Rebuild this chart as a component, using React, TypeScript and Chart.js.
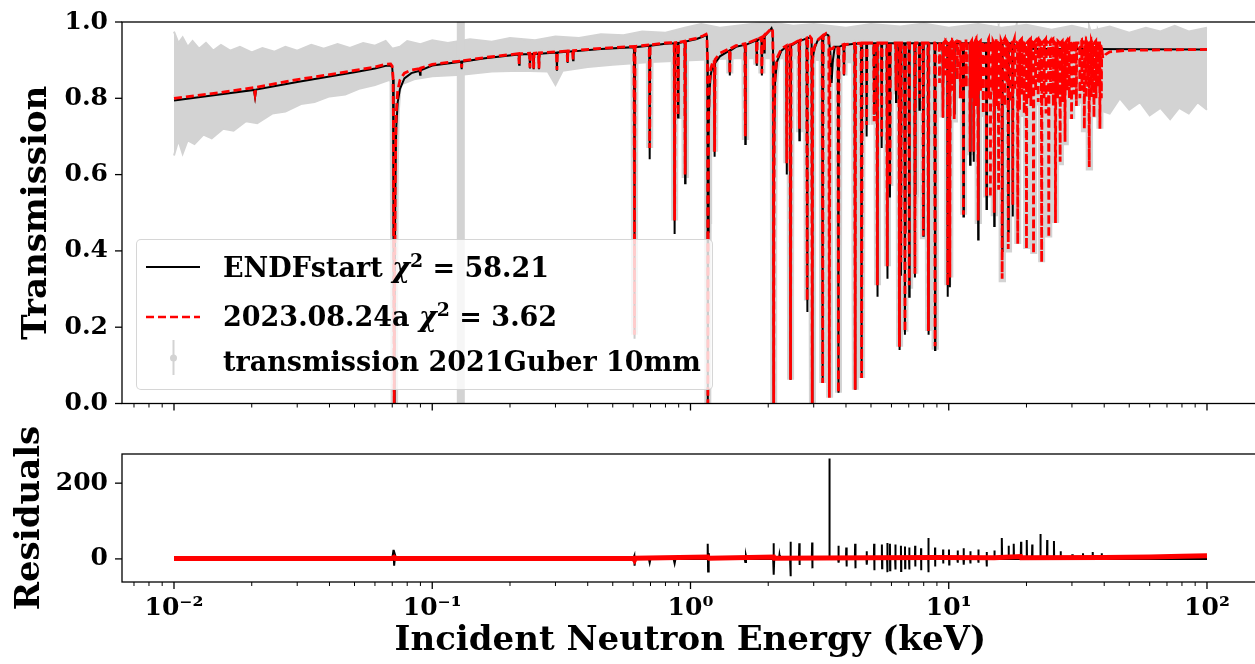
import React, { useEffect, useRef } from "react";
import { Chart, registerables } from "chart.js";
Chart.register(...registerables);

// ------------------------------------------------------------------ data
const xTickValues = [0.01, 0.1, 1, 10, 100];
const xTickLabels = ["10\u207B\u00B2", "10\u207B\u00B9", "10\u2070", "10\u00B9", "10\u00B2"];
const transTicks = [0, 0.2, 0.4, 0.6, 0.8, 1.0];
const residTicks = [0, 200];

const legendNames = ["ENDFstart", "2023.08.24a", "transmission 2021Guber 10mm"];
const legendChi2 = ["58.21", "3.62", null];

// ENDFstart model transmission [keV, T]
const endfCurve: number[][] = [
  [0.0100, 0.794], [0.0150, 0.810],
  [0.0204, 0.822], [0.0206, 0.803], [0.0208, 0.823],
  [0.0300, 0.843], [0.0400, 0.857], [0.0500, 0.868], [0.0600, 0.878], [0.0660, 0.885], [0.0690, 0.886],
  [0.0700, 0.880], [0.0705, 0.850], [0.0708, 0.700], [0.0710, 0.300], [0.0712, 0.000], [0.0715, 0.200],
  [0.0719, 0.550], [0.0725, 0.720], [0.0735, 0.790], [0.0750, 0.825], [0.0780, 0.852], [0.0830, 0.866],
  [0.0893, 0.872], [0.0897, 0.862], [0.0901, 0.873],
  [0.1000, 0.886],
  [0.1295, 0.896], [0.1300, 0.876], [0.1305, 0.896],
  [0.1600, 0.905],
  [0.2161, 0.915], [0.2170, 0.888], [0.2179, 0.915],
  [0.2380, 0.916], [0.2390, 0.878], [0.2400, 0.916],
  [0.2460, 0.916], [0.2470, 0.876], [0.2480, 0.916],
  [0.2580, 0.917], [0.2590, 0.876], [0.2600, 0.917],
  [0.3028, 0.920], [0.3040, 0.872], [0.3052, 0.920],
  [0.3327, 0.922], [0.3340, 0.893], [0.3353, 0.922],
  [0.3496, 0.923], [0.3510, 0.900], [0.3524, 0.923],
  [0.4500, 0.929],
  [0.6040, 0.934], [0.6064, 0.550], [0.6070, 0.170], [0.6076, 0.550], [0.6100, 0.934],
  [0.6922, 0.938], [0.6950, 0.640], [0.6978, 0.938],
  [0.8000, 0.943],
  [0.8645, 0.944], [0.8680, 0.444], [0.8715, 0.944],
  [0.8915, 0.945], [0.8950, 0.750], [0.8985, 0.945],
  [0.9492, 0.948], [0.9530, 0.577], [0.9568, 0.949],
  [1.0500, 0.955], [1.1200, 0.962], [1.1500, 0.966], [1.1580, 0.960], [1.1630, 0.900], [1.1660, 0.600],
  [1.1680, 0.000], [1.1710, 0.450], [1.1760, 0.720], [1.1850, 0.820], [1.2000, 0.865], [1.2200, 0.885],
  [1.2350, 0.890], [1.2400, 0.647], [1.2450, 0.892],
  [1.3000, 0.910],
  [1.4143, 0.925], [1.4200, 0.860], [1.4257, 0.925],
  [1.5000, 0.935],
  [1.6235, 0.940], [1.6300, 0.680], [1.6365, 0.940],
  [1.7988, 0.952], [1.8060, 0.885], [1.8132, 0.952],
  [1.8824, 0.958], [1.8900, 0.860], [1.8976, 0.958],
  [1.9223, 0.962], [1.9300, 0.920], [1.9377, 0.963],
  [2.0300, 0.978], [2.0600, 0.984], [2.0800, 0.975], [2.0900, 0.900], [2.0960, 0.500], [2.1000, 0.000],
  [2.1040, 0.400], [2.1100, 0.700], [2.1250, 0.840], [2.1600, 0.895], [2.2500, 0.925],
  [2.3506, 0.935], [2.3600, 0.600], [2.3694, 0.935],
  [2.4280, 0.938], [2.4375, 0.300], [2.4400, 0.062], [2.4425, 0.300], [2.4520, 0.938],
  [2.6294, 0.950], [2.6400, 0.690], [2.6506, 0.950],
  [2.8160, 0.957], [2.8270, 0.500], [2.8300, 0.240], [2.8330, 0.500], [2.8440, 0.957],
  [2.9000, 0.960],
  [2.9450, 0.955], [2.9570, 0.300], [2.9600, 0.000], [2.9630, 0.300], [2.9750, 0.900],
  [3.0200, 0.930], [3.1000, 0.950],
  [3.2340, 0.962], [3.2470, 0.300], [3.2500, 0.054], [3.2530, 0.300], [3.2660, 0.962],
  [3.3500, 0.968], [3.4200, 0.965], [3.4800, 0.920], [3.5200, 0.840], [3.5600, 0.900], [3.6200, 0.935],
  [3.7210, 0.935], [3.7360, 0.300], [3.7400, 0.028], [3.7440, 0.300], [3.7590, 0.935],
  [3.9140, 0.940], [3.9300, 0.860], [3.9460, 0.940],
  [4.3180, 0.943], [4.3360, 0.300], [4.3400, 0.036], [4.3440, 0.300], [4.3620, 0.943],
  [4.5770, 0.944], [4.5950, 0.300], [4.6000, 0.067], [4.6050, 0.300], [4.6230, 0.944],
  [4.7910, 0.944], [4.8100, 0.700], [4.8290, 0.944],
  [5.1190, 0.944], [5.1400, 0.760], [5.1610, 0.944],
  [5.2640, 0.944], [5.2850, 0.500], [5.2900, 0.280], [5.2950, 0.500], [5.3160, 0.944],
  [5.4780, 0.944], [5.5000, 0.670], [5.5220, 0.944],
  [5.7510, 0.944], [5.7740, 0.500], [5.7800, 0.327], [5.7860, 0.500], [5.8090, 0.944],
  [5.8960, 0.944], [5.9200, 0.540], [5.9440, 0.944],
  [6.2250, 0.944], [6.2500, 0.790], [6.2750, 0.944],
  [6.4080, 0.944], [6.4340, 0.450], [6.4400, 0.140], [6.4460, 0.450], [6.4720, 0.944],
  [6.5040, 0.944], [6.5300, 0.335], [6.5560, 0.944],
  [6.7360, 0.944], [6.7630, 0.450], [6.7700, 0.180], [6.7770, 0.450], [6.8040, 0.944],
  [7.0020, 0.944], [7.0300, 0.280], [7.0580, 0.944],
  [7.3630, 0.944], [7.3930, 0.550], [7.4000, 0.330], [7.4070, 0.550], [7.4370, 0.944],
  [7.6690, 0.944], [7.7000, 0.770], [7.7310, 0.944],
  [7.9380, 0.944], [7.9700, 0.440], [8.0020, 0.944],
  [8.2980, 0.944], [8.3320, 0.450], [8.3400, 0.180], [8.3480, 0.450], [8.3820, 0.944],
  [8.8060, 0.944], [8.8410, 0.450], [8.8500, 0.140], [8.8590, 0.450], [8.8940, 0.944],
  [9.4620, 0.944], [9.5000, 0.750], [9.5380, 0.944],
  [9.8700, 0.944], [9.9100, 0.280], [9.9500, 0.944],
  [10.060, 0.944], [10.100, 0.305], [10.140, 0.944],
  [10.460, 0.944], [10.500, 0.760], [10.540, 0.944],
  [11.350, 0.944], [11.400, 0.490], [11.450, 0.944],
  [12.050, 0.944], [12.100, 0.626], [12.150, 0.944],
  [12.450, 0.944], [12.500, 0.634], [12.550, 0.944],
  [12.950, 0.944], [13.000, 0.430], [13.050, 0.944],
  [13.940, 0.944], [14.000, 0.510], [14.060, 0.944],
  [14.940, 0.944], [15.000, 0.465], [15.060, 0.944],
  [16.040, 0.944], [16.100, 0.400], [16.160, 0.944],
  [16.930, 0.944], [17.000, 0.450], [17.070, 0.944],
  [17.630, 0.944], [17.700, 0.490], [17.770, 0.944],
  [18.500, 0.930], [100.00, 0.928],
];

// 2023.08.24a fit transmission [keV, T]
const fitCurve: number[][] = [
  [0.0100, 0.800], [0.0150, 0.815],
  [0.0204, 0.828], [0.0206, 0.810], [0.0208, 0.829],
  [0.0300, 0.849], [0.0400, 0.862], [0.0500, 0.873], [0.0600, 0.882], [0.0660, 0.889], [0.0690, 0.890],
  [0.0700, 0.884], [0.0705, 0.855], [0.0708, 0.700], [0.0710, 0.300], [0.0712, 0.000], [0.0715, 0.250],
  [0.0719, 0.600], [0.0725, 0.760], [0.0735, 0.820], [0.0750, 0.848], [0.0780, 0.866], [0.0830, 0.874],
  [0.0893, 0.878], [0.0897, 0.868], [0.0901, 0.879],
  [0.1000, 0.889],
  [0.1295, 0.898], [0.1300, 0.880], [0.1305, 0.898],
  [0.1600, 0.907],
  [0.2161, 0.917], [0.2170, 0.890], [0.2179, 0.917],
  [0.2380, 0.918], [0.2390, 0.880], [0.2400, 0.918],
  [0.2460, 0.918], [0.2470, 0.878], [0.2480, 0.918],
  [0.2580, 0.919], [0.2590, 0.878], [0.2600, 0.919],
  [0.3028, 0.922], [0.3040, 0.874], [0.3052, 0.922],
  [0.3327, 0.924], [0.3340, 0.895], [0.3353, 0.924],
  [0.3496, 0.925], [0.3510, 0.902], [0.3524, 0.925],
  [0.4500, 0.931],
  [0.6040, 0.936], [0.6064, 0.560], [0.6070, 0.180], [0.6076, 0.560], [0.6100, 0.936],
  [0.6922, 0.940], [0.6950, 0.670], [0.6978, 0.940],
  [0.8000, 0.945],
  [0.8645, 0.946], [0.8680, 0.480], [0.8715, 0.946],
  [0.8915, 0.947], [0.8950, 0.755], [0.8985, 0.947],
  [0.9492, 0.950], [0.9530, 0.600], [0.9568, 0.951],
  [1.0500, 0.957], [1.1200, 0.964], [1.1500, 0.968], [1.1580, 0.962], [1.1630, 0.900], [1.1660, 0.600],
  [1.1680, 0.000], [1.1710, 0.480], [1.1760, 0.750], [1.1850, 0.845], [1.2000, 0.880], [1.2200, 0.895],
  [1.2350, 0.900], [1.2400, 0.660], [1.2450, 0.902],
  [1.3000, 0.918],
  [1.4143, 0.930], [1.4200, 0.865], [1.4257, 0.930],
  [1.5000, 0.938],
  [1.6235, 0.943], [1.6300, 0.700], [1.6365, 0.943],
  [1.7988, 0.954], [1.8060, 0.888], [1.8132, 0.954],
  [1.8824, 0.960], [1.8900, 0.865], [1.8976, 0.960],
  [1.9223, 0.964], [1.9300, 0.925], [1.9377, 0.965],
  [2.0300, 0.979], [2.0600, 0.985], [2.0800, 0.976], [2.0900, 0.900], [2.0960, 0.500], [2.1000, 0.000],
  [2.1040, 0.420], [2.1100, 0.720], [2.1250, 0.855], [2.1600, 0.905], [2.2500, 0.930],
  [2.3506, 0.938], [2.3600, 0.630], [2.3694, 0.938],
  [2.4280, 0.940], [2.4375, 0.300], [2.4400, 0.062], [2.4425, 0.300], [2.4520, 0.940],
  [2.6294, 0.952], [2.6400, 0.720], [2.6506, 0.952],
  [2.8160, 0.958], [2.8270, 0.520], [2.8300, 0.270], [2.8330, 0.520], [2.8440, 0.958],
  [2.9000, 0.962],
  [2.9450, 0.956], [2.9570, 0.300], [2.9600, 0.000], [2.9630, 0.300], [2.9750, 0.905],
  [3.0200, 0.935], [3.1000, 0.952],
  [3.2340, 0.963], [3.2470, 0.300], [3.2500, 0.054], [3.2530, 0.300], [3.2660, 0.964],
  [3.3500, 0.970],
  [3.4330, 0.962], [3.4470, 0.300], [3.4500, 0.015], [3.4530, 0.300], [3.4670, 0.930],
  [3.5500, 0.930], [3.6200, 0.937],
  [3.7210, 0.937], [3.7360, 0.300], [3.7400, 0.028], [3.7440, 0.300], [3.7590, 0.937],
  [3.9140, 0.941], [3.9300, 0.860], [3.9460, 0.941],
  [4.3180, 0.944], [4.3360, 0.300], [4.3400, 0.036], [4.3440, 0.300], [4.3620, 0.944],
  [4.5770, 0.945], [4.5950, 0.300], [4.6000, 0.067], [4.6050, 0.300], [4.6230, 0.945],
  [4.7910, 0.945], [4.8100, 0.730], [4.8290, 0.945],
  [5.1190, 0.945], [5.1400, 0.740], [5.1610, 0.945],
  [5.2640, 0.945], [5.2850, 0.520], [5.2900, 0.310], [5.2950, 0.520], [5.3160, 0.945],
  [5.4780, 0.945], [5.5000, 0.700], [5.5220, 0.945],
  [5.7510, 0.945], [5.7740, 0.520], [5.7800, 0.360], [5.7860, 0.520], [5.8090, 0.945],
  [5.8960, 0.945], [5.9200, 0.570], [5.9440, 0.945],
  [6.2250, 0.945], [6.2500, 0.820], [6.2750, 0.945],
  [6.4080, 0.945], [6.4340, 0.450], [6.4400, 0.149], [6.4460, 0.450], [6.4720, 0.945],
  [6.5040, 0.945], [6.5300, 0.370], [6.5560, 0.945],
  [6.7360, 0.945], [6.7630, 0.450], [6.7700, 0.188], [6.7770, 0.450], [6.8040, 0.945],
  [7.0020, 0.945], [7.0300, 0.310], [7.0580, 0.945],
  [7.3630, 0.945], [7.3930, 0.550], [7.4000, 0.340], [7.4070, 0.550], [7.4370, 0.945],
  [7.6690, 0.945], [7.7000, 0.800], [7.7310, 0.945],
  [7.9380, 0.945], [7.9700, 0.440], [8.0020, 0.945],
  [8.2980, 0.945], [8.3320, 0.450], [8.3400, 0.190], [8.3480, 0.450], [8.3820, 0.945],
  [8.8060, 0.945], [8.8410, 0.450], [8.8500, 0.150], [8.8590, 0.450], [8.8940, 0.945],
  [9.180, 0.945], [9.210, 0.840], [9.240, 0.948],
  [9.470, 0.945], [9.500, 0.750], [9.530, 0.945],
  [9.680, 0.950], [9.710, 0.860], [9.740, 0.950],
  [9.880, 0.945], [9.910, 0.310], [9.940, 0.945],
  [10.07, 0.945], [10.10, 0.330], [10.13, 0.945],
  [10.27, 0.950], [10.30, 0.820], [10.33, 0.950],
  [10.47, 0.945], [10.50, 0.746], [10.53, 0.945],
  [10.77, 0.952], [10.80, 0.850], [10.83, 0.950],
  [11.07, 0.948], [11.10, 0.800], [11.13, 0.948],
  [11.37, 0.945], [11.40, 0.495], [11.43, 0.945],
  [11.66, 0.955], [11.70, 0.830], [11.74, 0.950],
  [12.06, 0.945], [12.10, 0.660], [12.14, 0.945],
  [12.26, 0.950], [12.30, 0.800], [12.34, 0.950],
  [12.46, 0.945], [12.50, 0.660], [12.54, 0.945],
  [12.76, 0.955], [12.80, 0.780], [12.84, 0.950],
  [12.96, 0.945], [13.00, 0.480], [13.04, 0.945],
  [13.26, 0.950], [13.30, 0.820], [13.34, 0.950],
  [13.56, 0.945], [13.60, 0.760], [13.64, 0.945],
  [13.96, 0.945], [14.00, 0.540], [14.04, 0.945],
  [14.26, 0.955], [14.30, 0.800], [14.34, 0.950],
  [14.46, 0.945], [14.50, 0.540], [14.54, 0.945],
  [14.76, 0.950], [14.80, 0.820], [14.84, 0.950],
  [14.96, 0.945], [15.00, 0.500], [15.04, 0.945],
  [15.26, 0.955], [15.30, 0.780], [15.34, 0.950],
  [15.55, 0.945], [15.60, 0.560], [15.65, 0.945],
  [15.85, 0.950], [15.90, 0.800], [15.95, 0.950],
  [16.05, 0.945], [16.10, 0.327], [16.15, 0.945],
  [16.45, 0.955], [16.50, 0.780], [16.55, 0.950],
  [16.75, 0.945], [16.80, 0.840], [16.85, 0.948],
  [16.95, 0.945], [17.00, 0.405], [17.05, 0.945],
  [17.25, 0.950], [17.30, 0.790], [17.35, 0.950],
  [17.65, 0.945], [17.70, 0.520], [17.75, 0.945],
  [17.95, 0.955], [18.00, 0.820], [18.05, 0.950],
  [18.45, 0.945], [18.50, 0.418], [18.55, 0.945],
  [18.75, 0.950], [18.80, 0.770], [18.85, 0.950],
  [19.14, 0.955], [19.20, 0.810], [19.26, 0.950],
  [19.54, 0.945], [19.60, 0.760], [19.66, 0.945],
  [19.94, 0.945], [20.00, 0.405], [20.06, 0.945],
  [20.34, 0.950], [20.40, 0.800], [20.46, 0.950],
  [20.74, 0.955], [20.80, 0.780], [20.86, 0.950],
  [21.24, 0.945], [21.30, 0.392], [21.36, 0.945],
  [21.64, 0.950], [21.70, 0.820], [21.76, 0.950],
  [22.13, 0.955], [22.20, 0.790], [22.27, 0.950],
  [22.43, 0.950], [22.50, 0.840], [22.57, 0.950],
  [22.83, 0.945], [22.90, 0.370], [22.97, 0.945],
  [23.33, 0.950], [23.40, 0.800], [23.47, 0.950],
  [23.73, 0.955], [23.80, 0.760], [23.87, 0.950],
  [24.33, 0.945], [24.40, 0.435], [24.47, 0.945],
  [24.73, 0.950], [24.80, 0.810], [24.87, 0.950],
  [25.32, 0.955], [25.40, 0.780], [25.48, 0.950],
  [25.82, 0.945], [25.90, 0.473], [25.98, 0.945],
  [26.32, 0.950], [26.40, 0.800], [26.48, 0.950],
  [26.92, 0.945], [27.00, 0.634], [27.08, 0.945],
  [27.52, 0.950], [27.60, 0.790], [27.68, 0.950],
  [28.12, 0.945], [28.20, 0.686], [28.28, 0.945],
  [28.61, 0.950], [28.70, 0.820], [28.79, 0.950],
  [29.21, 0.955], [29.30, 0.800], [29.39, 0.950],
  [29.81, 0.945], [29.90, 0.746], [29.99, 0.945],
  [30.41, 0.950], [30.50, 0.810], [30.59, 0.950],
  [31.11, 0.945], [31.20, 0.780], [31.29, 0.945],
  [32.10, 0.945], [32.20, 0.800], [32.30, 0.945],
  [32.70, 0.950], [32.80, 0.820], [32.90, 0.950],
  [33.40, 0.945], [33.50, 0.720], [33.60, 0.945],
  [33.90, 0.950], [34.00, 0.800], [34.10, 0.950],
  [34.40, 0.945], [34.50, 0.830], [34.60, 0.945],
  [34.90, 0.945], [35.00, 0.620], [35.10, 0.945],
  [35.50, 0.950], [35.60, 0.800], [35.70, 0.950],
  [35.90, 0.945], [36.00, 0.820], [36.10, 0.945],
  [36.39, 0.945], [36.50, 0.750], [36.61, 0.945],
  [37.09, 0.950], [37.20, 0.800], [37.31, 0.950],
  [37.69, 0.945], [37.80, 0.830], [37.91, 0.945],
  [38.38, 0.945], [38.50, 0.720], [38.62, 0.945],
  [38.88, 0.940], [39.00, 0.800], [39.12, 0.935],
  [39.50, 0.905], [40.50, 0.915], [42.00, 0.922], [50.00, 0.926], [100.0, 0.928],
];

// measured transmission (2021Guber 10mm): spread of the points with their error bars
const dataUpper: number[][] = [
  [0.0100, 0.975], [0.0104, 0.945], [0.0108, 0.960], [0.0113, 0.935], [0.0118, 0.950], [0.0125, 0.930],
  [0.0133, 0.945], [0.0142, 0.925], [0.0152, 0.940], [0.0165, 0.925], [0.0180, 0.935], [0.0200, 0.920],
  [0.0220, 0.932], [0.0245, 0.922], [0.0270, 0.935], [0.0300, 0.925], [0.0340, 0.940], [0.0380, 0.930],
  [0.0430, 0.942], [0.0480, 0.932], [0.0540, 0.945], [0.0600, 0.938], [0.0660, 0.950], [0.0700, 0.930],
  [0.0750, 0.935], [0.0800, 0.950], [0.0900, 0.942], [0.1000, 0.952], [0.1150, 0.945], [0.1400, 0.955],
  [0.1700, 0.948], [0.2000, 0.958], [0.2500, 0.952], [0.3000, 0.962], [0.3700, 0.958], [0.4500, 0.968],
  [0.5500, 0.965], [0.6500, 0.975], [0.8000, 0.972], [0.9500, 0.985], [1.1000, 0.995], [1.3000, 0.985],
  [1.6000, 0.992], [2.0000, 1.000], [2.5000, 0.990], [3.0000, 0.995], [4.0000, 0.985], [5.0000, 0.995],
  [6.5000, 0.988], [8.0000, 0.996], [10.000, 0.985], [13.000, 0.995], [16.000, 0.985], [20.000, 0.993],
  [25.000, 0.980], [30.000, 0.990], [36.000, 0.978], [42.000, 0.988], [50.000, 0.972], [58.000, 0.985],
  [66.000, 0.975], [75.000, 0.990], [85.000, 0.975], [100.00, 0.985],
];
const dataLower: number[][] = [
  [0.0100, 0.650], [0.0104, 0.690], [0.0108, 0.655], [0.0113, 0.690], [0.0120, 0.680], [0.0130, 0.705],
  [0.0140, 0.695], [0.0155, 0.720], [0.0170, 0.715], [0.0190, 0.740], [0.0210, 0.735], [0.0240, 0.760],
  [0.0270, 0.765], [0.0310, 0.785], [0.0350, 0.790], [0.0400, 0.805], [0.0460, 0.810], [0.0520, 0.825],
  [0.0600, 0.835], [0.0680, 0.848], [0.0750, 0.835], [0.0850, 0.850], [0.1000, 0.858], [0.1300, 0.862],
  [0.1700, 0.870], [0.2200, 0.872], [0.2800, 0.870], [0.3000, 0.835], [0.3200, 0.872], [0.4000, 0.882],
  [0.5000, 0.888], [0.7000, 0.895], [1.0000, 0.900], [1.5000, 0.905], [2.5000, 0.905], [4.0000, 0.895],
  [6.0000, 0.885], [9.0000, 0.870], [13.000, 0.850], [18.000, 0.830], [25.000, 0.810], [32.000, 0.790],
  [38.000, 0.770], [42.000, 0.760], [46.000, 0.800], [50.000, 0.770], [55.000, 0.790], [60.000, 0.755],
  [66.000, 0.775], [72.000, 0.745], [78.000, 0.775], [85.000, 0.760], [92.000, 0.790], [100.00, 0.770],
];
// measured points whose error bars span the whole range
const bigErrE = [0.129];
const bigErrLo = [-0.05];
const bigErrHi = [1.05];

// residuals [keV, value]
const endfResid: number[][] = [
  [0.0100, 0],
  [0.0700, 0], [0.0708, 24], [0.0712, -18], [0.0718, 10], [0.0725, 0],
  [0.6000, 0], [0.6060, 8], [0.6075, -18], [0.6100, 0],
  [0.6900, 0], [0.6950, -10], [0.7000, 0],
  [0.8600, 0], [0.8680, -12], [0.8750, 0],
  [1.1600, 0], [1.1660, 40], [1.1700, -33], [1.1760, 15], [1.1850, 0],
  [1.6200, 0], [1.6300, -8], [1.6400, 8], [1.6500, 0],
  [2.0900, 0], [2.0980, 41], [2.1020, -42], [2.1100, 0],
  [2.2000, 0], [2.2100, 10], [2.2200, 0],
  [2.4300, 0], [2.4370, 45], [2.4430, -46], [2.4500, 0],
  [2.6300, 0], [2.6380, 41], [2.6430, -16], [2.6500, 0],
  [2.9500, 0], [2.9580, 43], [2.9630, -25], [2.9700, 0],
  [3.4400, 0], [3.4500, 265], [3.4600, 0],
  [3.7300, 0], [3.7400, 35], [3.7500, -10], [3.7600, 0],
  [4.0000, 0], [4.0100, 30], [4.0200, -20], [4.0300, 0],
  [4.3300, 0], [4.3400, 40], [4.3500, -25], [4.3600, 0],
  [4.8000, 0], [4.8100, 20], [4.8200, -15], [4.8300, 0],
  [5.1300, 0], [5.1400, 40], [5.1500, -30], [5.1600, 0],
  [5.5000, 0], [5.5100, 38], [5.5200, -25], [5.5300, 0],
  [5.7700, 0], [5.7800, 42], [5.7900, -35], [5.8000, 0],
  [5.9100, 0], [5.9200, 40], [5.9300, -30], [5.9400, 0],
  [6.2000, 0], [6.2100, 38], [6.2200, -28], [6.2300, 0],
  [6.5200, 0], [6.5300, 35], [6.5400, -32], [6.5500, 0],
  [6.7600, 0], [6.7700, 33], [6.7800, -25], [6.7900, 0],
  [7.0200, 0], [7.0300, 30], [7.0400, -28], [7.0500, 0],
  [7.4000, 0], [7.4100, 35], [7.4200, -20], [7.4300, 0],
  [7.8000, 0], [7.8100, 28], [7.8200, -30], [7.8300, 0],
  [8.3300, 0], [8.3400, 55], [8.3500, -35], [8.3600, 0],
  [8.8400, 0], [8.8500, 30], [8.8600, -20], [8.8700, 0],
  [9.5000, 0], [9.5100, 25], [9.5200, -12], [9.5300, 0],
  [10.000, 0], [10.020, 25], [10.040, -15], [10.060, 0],
  [10.800, 0], [10.820, 22], [10.840, -10], [10.860, 0],
  [11.400, 0], [11.420, 28], [11.440, -15], [11.460, 0],
  [12.100, 0], [12.120, 20], [12.140, -12], [12.160, 0],
  [13.000, 0], [13.020, 25], [13.040, -10], [13.060, 0],
  [14.000, 0], [14.020, 18], [14.040, -20], [14.060, 0],
  [15.000, 0], [15.030, 22], [15.060, 0],
  [16.000, 0], [16.050, 55], [16.100, 0],
  [17.000, 0], [17.050, 35], [17.100, 0],
  [17.800, 0], [17.850, 40], [17.900, 0],
  [19.000, 0], [19.050, 45], [19.100, 0],
  [20.000, 0], [20.050, 50], [20.100, 0],
  [21.000, 0], [21.050, 38], [21.100, 0],
  [22.600, 0], [22.650, 66], [22.700, 0],
  [24.000, 0], [24.050, 50], [24.100, 0],
  [25.500, 0], [25.550, 47], [25.600, 0],
  [27.000, 0], [27.100, 20], [27.200, 0],
  [30.000, 0], [30.100, 12], [30.200, 0],
  [33.000, 0], [33.100, 15], [33.200, 0],
  [36.000, 0], [36.100, 18], [36.200, 0],
  [39.000, 0], [39.100, 15], [39.200, 0],
  [100.00, 0],
];
const fitResid: number[][] = [
  [0.0100, 1], [0.0700, 1], [0.0712, 4], [0.0720, 1], [0.6000, 2], [0.6070, -3], [0.6120, 2],
  [1.1680, 5], [1.1800, 2], [2.1000, 5], [2.1100, 2], [5.0000, 3], [9.0000, 4], [15.000, 3],
  [19.000, 6], [19.100, 3], [40.000, 4], [60.000, 5], [80.000, 7], [100.00, 8],
];

// ------------------------------------------------------------------ layout / style
const W = 1262;
const H = 664;
const X_MIN = 0.00629;
const X_MAX = 158.3;
const FAMILY = "'DejaVu Serif', 'Liberation Serif', serif";
const tickFont = { family: FAMILY, size: 25, weight: "bold" as const };
const titleFont = { family: FAMILY, size: 34, weight: "bold" as const };
const GRAY = "#d3d3d3";

const toXY = (arr: number[][]) => arr.map(([x, y]) => ({ x, y }));

const framePlugin = {
  id: "mplFrame",
  afterDatasetsDraw(chart: any) {
    const { ctx, chartArea: a, scales } = chart;
    const xs = scales.x;
    const ys = scales.y;
    ctx.save();
    ctx.strokeStyle = "#000";
    ctx.lineWidth = 1.3;
    ctx.strokeRect(a.left, a.top, a.right - a.left, a.bottom - a.top);
    for (let e = -3; e <= 2; e++) {
      for (let m = 1; m <= 9; m++) {
        const v = m * Math.pow(10, e);
        if (v < xs.min || v > xs.max) continue;
        const px = xs.getPixelForValue(v);
        ctx.beginPath();
        ctx.lineWidth = m === 1 ? 1.3 : 1;
        ctx.moveTo(px, a.bottom);
        ctx.lineTo(px, a.bottom + (m === 1 ? 7 : 4));
        ctx.stroke();
      }
    }
    ys.ticks.forEach((t: any) => {
      const py = ys.getPixelForValue(t.value);
      ctx.beginPath();
      ctx.lineWidth = 1.3;
      ctx.moveTo(a.left - 7, py);
      ctx.lineTo(a.left, py);
      ctx.stroke();
    });
    ctx.restore();
  },
};

function baseOptions(padding: any) {
  return {
    responsive: false,
    animation: false as const,
    devicePixelRatio: 1,
    events: [],
    layout: { padding },
    plugins: { legend: { display: false }, tooltip: { enabled: false } },
    elements: { point: { radius: 0 }, line: { tension: 0 } },
  };
}

function topConfig(): any {
  return {
    type: "line",
    data: {
      datasets: [
        { data: toXY(fitCurve), borderColor: "#ff0000", borderWidth: 2.8, borderDash: [8, 4], order: 0, clip: 0 },
        { data: toXY(endfCurve), borderColor: "#000000", borderWidth: 2, order: 1, clip: 0 },
        { data: toXY(fitCurve), borderColor: GRAY, borderWidth: 7, order: 2, clip: 0 },
        {
          data: bigErrE.flatMap((e, i) => [{ x: e, y: bigErrLo[i] }, { x: e, y: bigErrHi[i] }]),
          borderColor: GRAY, borderWidth: 8, order: 3, clip: 0,
        },
        { data: toXY(dataUpper), borderColor: GRAY, backgroundColor: GRAY, borderWidth: 2, fill: "+1", order: 4, clip: 0 },
        { data: toXY(dataLower), borderColor: GRAY, borderWidth: 2, order: 5, clip: 0 },
      ],
    },
    options: {
      ...baseOptions({ top: 18, left: 0, right: W - 1258.5, bottom: H - 403.5 - 10 }),
      scales: {
        x: {
          type: "logarithmic", min: X_MIN, max: X_MAX,
          afterFit: (s: any) => { s.height = 10; },
          ticks: { display: false },
          grid: { display: false, tickLength: 7 },
          border: { display: false },
        },
        y: {
          type: "linear", min: 0, max: 1,
          afterFit: (s: any) => { s.width = 122; },
          afterBuildTicks: (s: any) => { s.ticks = transTicks.map((v) => ({ value: v })); },
          ticks: { callback: (v: any) => Number(v).toFixed(1), font: tickFont, color: "#000", padding: 7 },
          grid: { display: false, tickLength: 7 },
          border: { display: false },
          title: { display: true, text: "Transmission", font: titleFont, color: "#000", padding: { top: 17, bottom: 0 } },
        },
      },
    },
    plugins: [framePlugin],
  };
}

function bottomConfig(): any {
  return {
    type: "line",
    data: {
      datasets: [
        { data: toXY(fitResid), borderColor: "#ff0000", borderWidth: 5, order: 0, clip: 0 },
        { data: toXY(endfResid), borderColor: "#000000", borderWidth: 2, order: 1, clip: 0 },
      ],
    },
    options: {
      ...baseOptions({ top: 454, left: 0, right: W - 1258.5, bottom: 0 }),
      scales: {
        x: {
          type: "logarithmic", min: X_MIN, max: X_MAX,
          afterFit: (s: any) => { s.height = H - 582; },
          afterBuildTicks: (s: any) => { s.ticks = xTickValues.map((v) => ({ value: v, major: true })); },
          ticks: {
            callback: (_v: any, i: number) => xTickLabels[i],
            font: tickFont, color: "#000", padding: 4, autoSkip: false, maxRotation: 0,
          },
          grid: { display: false, tickLength: 7 },
          border: { display: false },
          title: { display: true, text: "Incident Neutron Energy (keV)", font: titleFont, color: "#000", padding: { top: 0, bottom: 2 } },
        },
        y: {
          type: "linear", min: -61, max: 277,
          afterFit: (s: any) => { s.width = 122; },
          afterBuildTicks: (s: any) => { s.ticks = residTicks.map((v) => ({ value: v })); },
          ticks: { callback: (v: any) => String(v), font: tickFont, color: "#000", padding: 7 },
          grid: { display: false, tickLength: 7 },
          border: { display: false },
          title: { display: true, text: "Residuals", font: titleFont, color: "#000", padding: { top: 10, bottom: 0 } },
        },
      },
    },
    plugins: [framePlugin],
  };
}

function Legend() {
  const rowTops = [13, 62, 107];
  const font = `bold 27px ${FAMILY}`;
  return (
    <div
      style={{
        position: "absolute", left: 136, top: 239, width: 577, height: 151, boxSizing: "border-box",
        border: "1.3px solid rgba(204,204,204,0.8)", borderRadius: 5, background: "rgba(255,255,255,0.8)",
      }}
    >
      <svg width={577} height={151} style={{ position: "absolute", left: -1, top: -1 }}>
        <line x1={10} y1={28} x2={64} y2={28} stroke="#000" strokeWidth={2} />
        <line x1={10} y1={78} x2={64} y2={78} stroke="#f00" strokeWidth={2.4} strokeDasharray="8 4" />
        <line x1={37.5} y1={101} x2={37.5} y2={136} stroke={GRAY} strokeWidth={2} />
        <circle cx={37.5} cy={119} r={3.5} fill={GRAY} />
      </svg>
      {legendNames.map((name, i) => (
        <div
          key={name}
          style={{ position: "absolute", left: 86, top: rowTops[i], font, lineHeight: "30px", whiteSpace: "nowrap", color: "#000" }}
        >
          {name}
          {legendChi2[i] !== null && (
            <>
              {" "}
              <span style={{ fontStyle: "italic" }}>χ</span>
              <span style={{ fontSize: "0.7em", position: "relative", top: "-0.55em" }}>2</span>
              {" = "}
              {legendChi2[i]}
            </>
          )}
        </div>
      ))}
    </div>
  );
}

export default function App() {
  const topRef = useRef<HTMLCanvasElement>(null);
  const botRef = useRef<HTMLCanvasElement>(null);
  useEffect(() => {
    const top = new Chart(topRef.current as HTMLCanvasElement, topConfig());
    const bot = new Chart(botRef.current as HTMLCanvasElement, bottomConfig());
    return () => {
      top.destroy();
      bot.destroy();
    };
  }, []);
  const canvasStyle: React.CSSProperties = { position: "absolute", left: 0, top: 0, width: W, height: H };
  return (
    <div style={{ position: "absolute", left: 0, top: 0, width: 1255, height: 664, overflow: "hidden", background: "#fff" }}>
      <canvas ref={botRef} width={W} height={H} style={canvasStyle} />
      <canvas ref={topRef} width={W} height={H} style={canvasStyle} />
      <Legend />
    </div>
  );
}
